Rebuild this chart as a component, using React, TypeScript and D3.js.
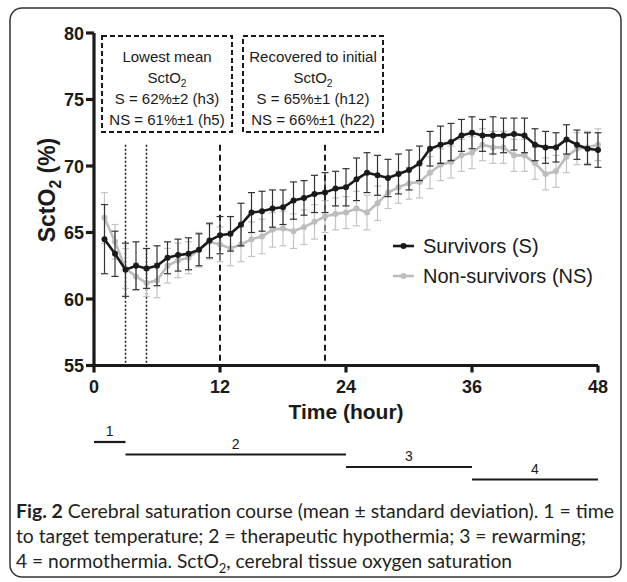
import React, { useEffect, useRef } from 'react';
import * as d3 from 'd3';

// hourly means, h1..h48
const hours = d3.range(1, 49);
const survMean = [
  64.5, 63.4, 62.2, 62.5, 62.3, 62.5, 63.1, 63.3, 63.4, 63.7, 64.4, 64.8,
  64.9, 65.6, 66.5, 66.6, 66.8, 66.9, 67.4, 67.6, 67.9, 68.0, 68.3, 68.4,
  69.0, 69.5, 69.3, 69.1, 69.4, 69.7, 70.2, 71.3, 71.6, 71.8, 72.3, 72.5,
  72.3, 72.3, 72.3, 72.4, 72.3, 71.6, 71.4, 71.4, 72.0, 71.6, 71.3, 71.2,
];
const survSd = [
  2.6, 1.7, 2.0, 1.8, 1.5, 1.5, 1.2, 1.2, 1.2, 1.2, 1.3, 1.4,
  1.3, 1.6, 1.5, 1.5, 1.4, 1.3, 1.4, 1.3, 1.4, 1.5, 1.3, 1.4,
  1.6, 1.5, 1.5, 1.4, 1.5, 1.5, 1.3, 1.3, 1.4, 1.4, 1.2, 1.2,
  1.2, 1.4, 1.3, 1.2, 1.3, 1.2, 1.2, 1.1, 1.1, 1.1, 1.2, 1.3,
];
const nonSurvMean = [
  66.1, 64.3, 62.3, 61.7, 61.2, 61.4, 62.5, 62.9, 63.1, 63.7, 64.3, 64.1,
  63.8, 64.1, 64.5, 64.7, 65.2, 65.3, 65.1, 65.4, 65.8, 66.2, 66.4, 66.5,
  66.8, 66.5, 67.2, 68.0, 68.4, 68.7, 68.8, 69.5, 70.1, 70.3, 70.8, 71.0,
  71.6, 71.4, 71.4, 70.8, 70.8, 70.2, 69.4, 69.6, 70.7, 71.3, 71.4, 71.6,
];
const nonSurvSd = [
  1.9, 1.3, 1.5, 1.0, 1.0, 1.3, 1.3, 1.3, 1.2, 1.3, 1.3, 1.3,
  1.3, 1.3, 1.3, 1.3, 1.3, 1.3, 1.3, 1.3, 1.3, 1.2, 1.2, 1.2,
  1.3, 1.3, 1.3, 1.2, 1.2, 1.2, 1.2, 1.2, 1.2, 1.2, 1.2, 1.2,
  1.2, 1.2, 1.2, 1.2, 1.2, 1.2, 1.2, 1.2, 1.2, 1.2, 1.2, 1.2,
];

const xTicks = [0, 12, 24, 36, 48];
const yTicks = [55, 60, 65, 70, 75, 80];
const dottedHours = [3, 5];
const dashedHours = [12, 22];
const phases = [
  { label: '1', start: 0, end: 3 },
  { label: '2', start: 3, end: 24 },
  { label: '3', start: 24, end: 36 },
  { label: '4', start: 36, end: 48 },
];
const boxLeft = ['Lowest mean', 'SctO|2', 'S = 62%±2 (h3)', 'NS = 61%±1 (h5)'];
const boxRight = ['Recovered to initial', 'SctO|2', 'S = 65%±1 (h12)', 'NS = 66%±1 (h22)'];
const captionLines = [
  ' Cerebral saturation course (mean ± standard deviation). 1 = time',
  'to target temperature; 2 = therapeutic hypothermia; 3 = rewarming;',
  '4 = normothermia. SctO|2, cerebral tissue oxygen saturation',
];

const BLACK = '#1a1a1a';
const GRAY = '#bdbdbd';
const ARIAL = 'Liberation Sans, Arial, sans-serif';

const App: React.FC = () => {
  const svgRef = useRef<SVGSVGElement>(null);

  useEffect(() => {
    if (!svgRef.current) return;
    const svg = d3.select(svgRef.current);
    svg.selectAll('*').remove();

    const x = d3.scaleLinear().domain([0, 48]).range([94, 598]);
    const y = d3.scaleLinear().domain([55, 80]).range([365.5, 33]);

    // outer frame
    svg.append('rect')
      .attr('x', 10).attr('y', 8)
      .attr('width', 611).attr('height', 569)
      .attr('rx', 12)
      .attr('fill', 'none')
      .attr('stroke', '#333')
      .attr('stroke-width', 1.5);

    // helper for text with a "|" marking a subscript
    const addSubText = (sel: d3.Selection<SVGTextElement, unknown, null, undefined>, s: string, size: number) => {
      const parts = s.split('|');
      sel.append('tspan').text(parts[0]);
      if (parts.length > 1) {
        const rest = parts[1];
        sel.append('tspan')
          .attr('font-size', size * 0.68)
          .attr('dy', size * 0.25)
          .text(rest[0]);
        sel.append('tspan')
          .attr('dy', -size * 0.25)
          .text(rest.slice(1));
      }
    };

    // annotation boxes
    const boxes = [
      { x0: 102, x1: 232, lines: boxLeft },
      { x0: 243, x1: 383, lines: boxRight },
    ];
    boxes.forEach(b => {
      svg.append('rect')
        .attr('x', b.x0).attr('y', 36)
        .attr('width', b.x1 - b.x0).attr('height', 96)
        .attr('fill', 'none')
        .attr('stroke', BLACK)
        .attr('stroke-width', 2)
        .attr('stroke-dasharray', '5,3');
      b.lines.forEach((ln, i) => {
        const t = svg.append('text')
          .attr('x', (b.x0 + b.x1) / 2)
          .attr('y', 62 + i * 21)
          .attr('text-anchor', 'middle')
          .attr('font-family', ARIAL)
          .attr('font-size', 15)
          .attr('fill', BLACK);
        addSubText(t, ln, 15);
      });
    });

    // reference vertical lines
    dottedHours.forEach(h => {
      svg.append('line')
        .attr('x1', x(h)).attr('x2', x(h))
        .attr('y1', y(71.6)).attr('y2', y(55))
        .attr('stroke', BLACK).attr('stroke-width', 1.5)
        .attr('stroke-dasharray', '2,2');
    });
    dashedHours.forEach(h => {
      svg.append('line')
        .attr('x1', x(h)).attr('x2', x(h))
        .attr('y1', y(71.6)).attr('y2', y(55))
        .attr('stroke', BLACK).attr('stroke-width', 2)
        .attr('stroke-dasharray', '6,4');
    });

    // series
    const series = [
      { mean: nonSurvMean, sd: nonSurvSd, color: GRAY, bar: '#c4c4c4' },
      { mean: survMean, sd: survSd, color: BLACK, bar: '#333' },
    ];
    series.forEach(s => {
      const g = svg.append('g');
      hours.forEach((h, i) => {
        const cx = x(h);
        const top = y(s.mean[i] + s.sd[i]);
        const bot = y(s.mean[i] - s.sd[i]);
        g.append('line').attr('x1', cx).attr('x2', cx).attr('y1', top).attr('y2', bot)
          .attr('stroke', s.bar).attr('stroke-width', 1.2);
        [top, bot].forEach(yy => {
          g.append('line').attr('x1', cx - 3.5).attr('x2', cx + 3.5).attr('y1', yy).attr('y2', yy)
            .attr('stroke', s.bar).attr('stroke-width', 1.2);
        });
      });
      const line = d3.line<number>()
        .x((d, i) => x(hours[i]))
        .y(d => y(d));
      g.append('path')
        .datum(s.mean)
        .attr('fill', 'none')
        .attr('stroke', s.color)
        .attr('stroke-width', 2.6)
        .attr('d', line);
      g.selectAll('circle')
        .data(s.mean)
        .join('circle')
        .attr('cx', (d, i) => x(hours[i]))
        .attr('cy', d => y(d))
        .attr('r', 3)
        .attr('fill', s.color);
    });

    // axes
    const axisW = 3.2;
    svg.append('line')
      .attr('x1', x(0)).attr('x2', x(0))
      .attr('y1', y(80)).attr('y2', y(55))
      .attr('stroke', BLACK).attr('stroke-width', axisW);
    svg.append('line')
      .attr('x1', x(0)).attr('x2', x(48))
      .attr('y1', y(55)).attr('y2', y(55))
      .attr('stroke', BLACK).attr('stroke-width', axisW);

    yTicks.forEach(v => {
      svg.append('line')
        .attr('x1', x(0) - 8).attr('x2', x(0))
        .attr('y1', y(v)).attr('y2', y(v))
        .attr('stroke', BLACK).attr('stroke-width', axisW);
      svg.append('text')
        .attr('x', x(0) - 10).attr('y', y(v) + 6.5)
        .attr('text-anchor', 'end')
        .attr('font-family', ARIAL).attr('font-weight', 'bold')
        .attr('font-size', 18).attr('fill', BLACK)
        .text(v);
    });
    xTicks.forEach(v => {
      svg.append('line')
        .attr('x1', x(v)).attr('x2', x(v))
        .attr('y1', y(55)).attr('y2', y(55) + 7)
        .attr('stroke', BLACK).attr('stroke-width', axisW);
      svg.append('text')
        .attr('x', x(v)).attr('y', 393)
        .attr('text-anchor', 'middle')
        .attr('font-family', ARIAL).attr('font-weight', 'bold')
        .attr('font-size', 18).attr('fill', BLACK)
        .text(v);
    });

    svg.append('text')
      .attr('x', (x(0) + x(48)) / 2).attr('y', 419)
      .attr('text-anchor', 'middle')
      .attr('font-family', ARIAL).attr('font-weight', 'bold')
      .attr('font-size', 21).attr('fill', BLACK)
      .text('Time (hour)');

    const yt = svg.append('text')
      .attr('transform', 'translate(55,190) rotate(-90)')
      .attr('text-anchor', 'middle')
      .attr('font-family', ARIAL).attr('font-weight', 'bold')
      .attr('font-size', 23).attr('fill', BLACK);
    addSubText(yt, 'SctO|2 (%)', 23);

    // legend
    const legend = [
      { label: 'Survivors (S)', color: BLACK, yy: 246 },
      { label: 'Non-survivors (NS)', color: GRAY, yy: 276 },
    ];
    legend.forEach(l => {
      svg.append('line')
        .attr('x1', 393).attr('x2', 414)
        .attr('y1', l.yy).attr('y2', l.yy)
        .attr('stroke', l.color).attr('stroke-width', 2.6);
      svg.append('circle')
        .attr('cx', 403.5).attr('cy', l.yy).attr('r', 3).attr('fill', l.color);
      svg.append('text')
        .attr('x', 423).attr('y', l.yy + 7)
        .attr('font-family', ARIAL).attr('font-size', 20).attr('fill', BLACK)
        .text(l.label);
    });

    // phase bars
    phases.forEach((p, i) => {
      const yy = 442 + i * 12.5;
      svg.append('line')
        .attr('x1', x(p.start)).attr('x2', x(p.end))
        .attr('y1', yy).attr('y2', yy)
        .attr('stroke', BLACK).attr('stroke-width', 2.2);
      svg.append('text')
        .attr('x', (x(p.start) + x(p.end)) / 2).attr('y', yy - 6)
        .attr('text-anchor', 'middle')
        .attr('font-family', ARIAL).attr('font-size', 14).attr('fill', BLACK)
        .text(p.label);
    });

    // caption
    const CAP = 'Lato, Roboto, sans-serif';
    const widths = [598, 570, 496];
    captionLines.forEach((ln, i) => {
      const t = svg.append('text')
        .attr('x', 16).attr('y', 518 + i * 25)
        .attr('font-family', CAP).attr('font-size', 18.5).attr('fill', '#231f20')
        .attr('textLength', widths[i])
        .attr('lengthAdjust', 'spacingAndGlyphs');
      if (i === 0) {
        t.append('tspan').attr('font-weight', 'bold').text('Fig. 2');
      }
      addSubText(t, ln, 18.5);
    });
  }, []);

  return (
    <svg
      ref={svgRef}
      width={627}
      height={582}
      style={{ position: 'absolute', left: 0, top: 0, background: '#fff' }}
    />
  );
};

export default App;
